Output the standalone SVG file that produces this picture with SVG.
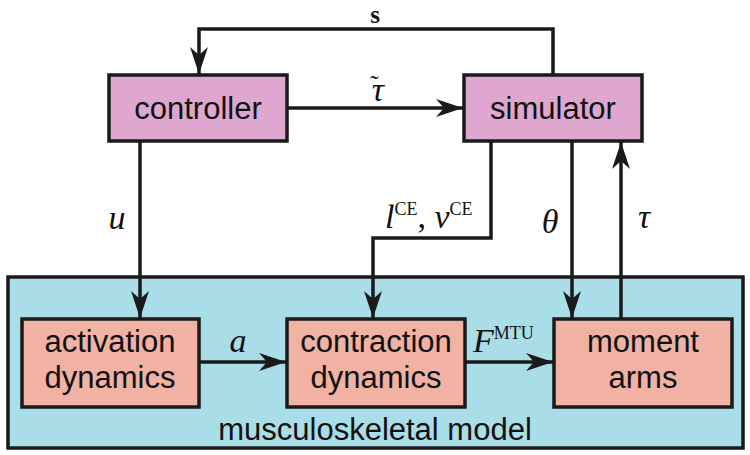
<svg xmlns="http://www.w3.org/2000/svg" width="750" height="455" viewBox="0 0 750 455">
<defs>
<marker id="ah" markerUnits="userSpaceOnUse" markerWidth="30" markerHeight="24" viewBox="-28 -12 30 24" refX="0" refY="0" orient="auto">
<path d="M0,0 L-27,-9 L-19,0 L-27,9 Z" fill="#1a1a1a"/>
</marker>
</defs>
<style>
.box{stroke:#1a1a1a;stroke-width:3.5}
.ctl{fill:#dfa7cf}
.mus{fill:#f1b1a3}
.env{fill:#a9dee9}
.lbl{font-family:"Liberation Sans",Arial,sans-serif;font-size:31px;fill:#111;text-anchor:middle}
.m{font-family:"Liberation Serif","DejaVu Serif",serif;font-style:italic;font-size:34px;fill:#111}
.sup{font-family:"Liberation Serif","DejaVu Serif",serif;font-style:normal;font-size:18px}
.c{stroke:#1a1a1a;stroke-width:3.5;fill:none;marker-end:url(#ah)}
</style>
<g id="musculoskeletal-model">
<rect class="box env" x="8" y="277" width="735" height="171"/>
<text class="lbl" x="375" y="440">musculoskeletal model</text>
</g>
<g id="controller">
<rect class="box ctl" x="109" y="75" width="178" height="66"/>
<text class="lbl" x="198" y="119">controller</text>
</g>
<g id="simulator">
<rect class="box ctl" x="464" y="75" width="178" height="66"/>
<text class="lbl" x="553" y="119">simulator</text>
</g>
<g id="activation-dynamics">
<rect class="box mus" x="22" y="319" width="177" height="88"/>
<text class="lbl" x="110" y="352">activation</text>
<text class="lbl" x="110" y="388">dynamics</text>
</g>
<g id="contraction-dynamics">
<rect class="box mus" x="287" y="319" width="178" height="88"/>
<text class="lbl" x="376" y="352">contraction</text>
<text class="lbl" x="376" y="388">dynamics</text>
</g>
<g id="moment-arms">
<rect class="box mus" x="554" y="319" width="178" height="88"/>
<text class="lbl" x="643" y="352">moment</text>
<text class="lbl" x="643" y="388">arms</text>
</g>
<g id="connectors">
<path class="c" d="M553,75 V29 H199 V74"/>
<path class="c" d="M287,108 H463"/>
<path class="c" d="M140,141 V318"/>
<path class="c" d="M491,141 V238 H373 V318"/>
<path class="c" d="M572,141 V318"/>
<path class="c" d="M621,319 V142"/>
<path class="c" d="M199,362 H286"/>
<path class="c" d="M465,362 H553"/>
<text x="375" y="23" font-family="Liberation Serif,DejaVu Serif,serif" font-weight="bold" font-size="25" fill="#111" text-anchor="middle">s</text>
<text class="m" x="370" y="101">τ<tspan font-style="normal" font-size="26" dx="-14" dy="-8">˜</tspan></text>
<text class="m" x="117" y="229" text-anchor="middle">u</text>
<text class="m" x="385" y="228">l<tspan class="sup" dy="-13">CE</tspan><tspan dy="13" font-style="normal">, </tspan>v<tspan class="sup" dy="-13">CE</tspan></text>
<text class="m" x="550" y="233" text-anchor="middle">θ</text>
<text class="m" x="644" y="228" text-anchor="middle">τ</text>
<text class="m" x="238" y="352" text-anchor="middle">a</text>
<text class="m" x="473" y="352">F<tspan class="sup" dy="-13">MTU</tspan></text>
</g>
</svg>
